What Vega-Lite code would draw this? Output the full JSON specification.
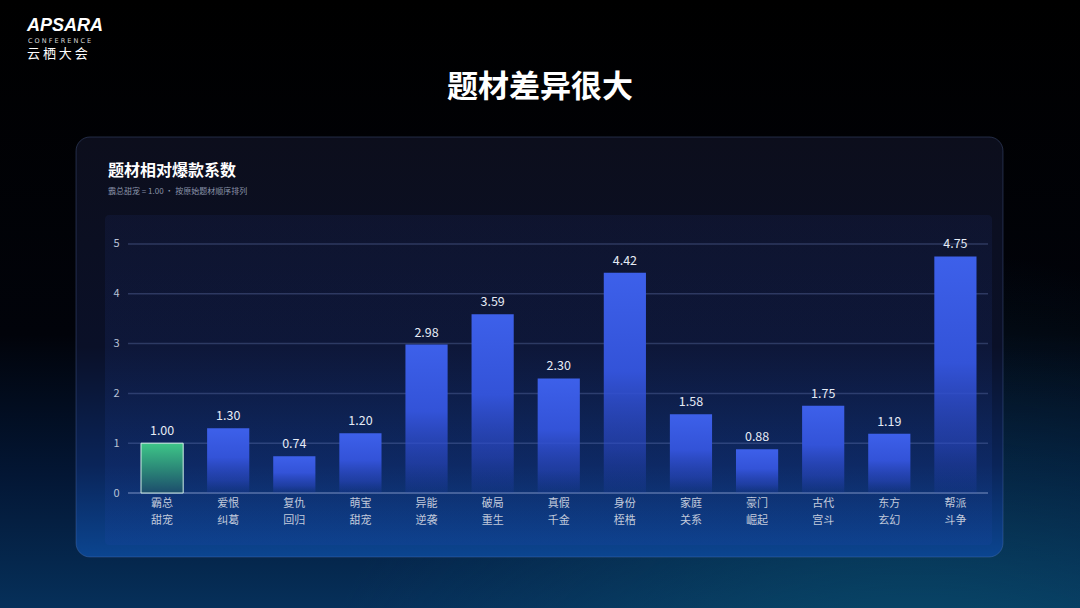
{
  "$schema": "https://vega.github.io/schema/vega-lite/v6.json",
  "width": 1080,
  "height": 608,
  "padding": 0,
  "autosize": {"type": "none"},
  "background": "#000000",
  "config": {
    "view": {"stroke": null},
    "font": "Noto Sans CJK SC",
    "text": {"font": "Noto Sans CJK SC"}
  },
  "datasets": {
    "bars": [
      {"题材": "霸总甜宠", "系数": 1.00, "基准": true},
      {"题材": "爱恨纠葛", "系数": 1.30, "基准": false},
      {"题材": "复仇回归", "系数": 0.74, "基准": false},
      {"题材": "萌宝甜宠", "系数": 1.20, "基准": false},
      {"题材": "异能逆袭", "系数": 2.98, "基准": false},
      {"题材": "破局重生", "系数": 3.59, "基准": false},
      {"题材": "真假千金", "系数": 2.30, "基准": false},
      {"题材": "身份桎梏", "系数": 4.42, "基准": false},
      {"题材": "家庭关系", "系数": 1.58, "基准": false},
      {"题材": "豪门崛起", "系数": 0.88, "基准": false},
      {"题材": "古代宫斗", "系数": 1.75, "基准": false},
      {"题材": "东方玄幻", "系数": 1.19, "基准": false},
      {"题材": "帮派斗争", "系数": 4.75, "基准": false}
    ],
    "grid": [{"v": 1}, {"v": 2}, {"v": 3}, {"v": 4}, {"v": 5}],
    "one": [{"k": 1}]
  },
  "data": {"name": "bars"},
  "layer": [
    {
      "data": {"name": "one"},
      "mark": {
        "type": "rect",
        "fill": {
          "gradient": "linear", "x1": 0, "y1": 0, "x2": 0, "y2": 1,
          "stops": [
            {"offset": 0, "color": "#000000"},
            {"offset": 0.55, "color": "#01030a"},
            {"offset": 0.78, "color": "#031634"},
            {"offset": 1, "color": "#06305a"}
          ]
        }
      },
      "encoding": {}
    },
    {
      "data": {"name": "one"},
      "mark": {
        "type": "rect",
        "fill": {
          "gradient": "radial", "x1": 0.85, "y1": 1.05, "r1": 0, "x2": 0.85, "y2": 1.05, "r2": 0.6,
          "stops": [
            {"offset": 0, "color": "rgba(12,110,125,0.85)"},
            {"offset": 0.6, "color": "rgba(10,80,110,0.35)"},
            {"offset": 1, "color": "rgba(10,60,100,0)"}
          ]
        }
      },
      "encoding": {}
    },
    {
      "data": {"name": "one"},
      "mark": {
        "type": "rect",
        "cornerRadius": 14,
        "xOffset": -65,
        "x2Offset": 26.5,
        "stroke": "rgba(110,140,210,0.28)",
        "strokeWidth": 1,
        "fill": {
          "gradient": "linear", "x1": 0, "y1": 0, "x2": 0, "y2": 1,
          "stops": [
            {"offset": 0, "color": "#0c0e1c"},
            {"offset": 0.5, "color": "#0a1028"},
            {"offset": 0.78, "color": "#0a2458"},
            {"offset": 1, "color": "#0b4590"}
          ]
        }
      },
      "encoding": {
        "x": {"datum": "霸总甜宠", "type": "nominal", "bandPosition": 0},
        "x2": {"datum": "帮派斗争", "bandPosition": 1},
        "y": {"datum": 7.149, "type": "quantitative"},
        "y2": {"datum": -1.285}
      }
    },
    {
      "data": {"name": "one"},
      "mark": {
        "type": "rect",
        "cornerRadius": 4,
        "xOffset": -36,
        "x2Offset": 15.5,
        "fill": {
          "gradient": "linear", "x1": 0, "y1": 0, "x2": 0, "y2": 1,
          "stops": [
            {"offset": 0, "color": "rgba(30,45,110,0.18)"},
            {"offset": 1, "color": "rgba(30,70,170,0.18)"}
          ]
        }
      },
      "encoding": {
        "x": {"datum": "霸总甜宠", "type": "nominal", "bandPosition": 0},
        "x2": {"datum": "帮派斗争", "bandPosition": 1},
        "y": {"datum": 5.582, "type": "quantitative"},
        "y2": {"datum": -1.044}
      }
    },
    {
      "data": {"name": "grid"},
      "mark": {"type": "rule", "stroke": "rgba(120,140,200,0.3)", "strokeWidth": 1.5, "xOffset": -13, "x2Offset": 11.5},
      "encoding": {
        "x": {"datum": "霸总甜宠", "type": "nominal", "bandPosition": 0},
        "x2": {"datum": "帮派斗争", "bandPosition": 1},
        "y": {"field": "v", "type": "quantitative"}
      }
    },
    {
      "data": {"name": "one"},
      "mark": {"type": "rule", "stroke": "rgba(150,170,215,0.55)", "strokeWidth": 1.5, "xOffset": -13, "x2Offset": 11.5},
      "encoding": {
        "x": {"datum": "霸总甜宠", "type": "nominal", "bandPosition": 0},
        "x2": {"datum": "帮派斗争", "bandPosition": 1},
        "y": {"datum": 0, "type": "quantitative"}
      }
    },
    {
      "transform": [{"filter": "!datum['基准']"}],
      "mark": {
        "type": "bar",
        "fill": {
          "gradient": "linear", "x1": 0, "y1": 0, "x2": 0, "y2": 1,
          "stops": [
            {"offset": 0, "color": "#3d60ea"},
            {"offset": 0.45, "color": "#3353d8"},
            {"offset": 0.8, "color": "rgba(45,75,205,0.55)"},
            {"offset": 1, "color": "rgba(40,70,200,0.1)"}
          ]
        }
      },
      "encoding": {
        "x": {
          "field": "题材", "type": "nominal",
          "scale": {
            "domain": ["霸总甜宠", "爱恨纠葛", "复仇回归", "萌宝甜宠", "异能逆袭", "破局重生", "真假千金", "身份桎梏", "家庭关系", "豪门崛起", "古代宫斗", "东方玄幻", "帮派斗争"],
            "range": [141, 976.5],
            "paddingInner": 0.362, "paddingOuter": 0
          },
          "axis": {
            "orient": "bottom", "offset": -115, "title": null, "zindex": 1,
            "domain": false, "ticks": false, "labelAngle": 0,
            "bandPosition": 0.5, "labelAlign": "center",
            "labelExpr": "[substring(datum.label,0,2), substring(datum.label,2)]",
            "labelFontSize": 11, "labelColor": "#c2cadb", "labelLineHeight": 17,
            "labelPadding": 10, "labelFont": "Noto Sans CJK SC"
          }
        },
        "y": {
          "field": "系数", "type": "quantitative",
          "scale": {"domain": [-2.309, 9.899], "nice": false, "zero": false},
          "axis": {
            "values": [0, 1, 2, 3, 4, 5], "offset": -128, "title": null, "zindex": 1,
            "domain": false, "ticks": false, "grid": false,
            "labelFontSize": 11, "labelColor": "#b8c2d6", "labelPadding": 9,
            "labelFont": "Noto Sans CJK SC"
          }
        },
        "y2": {"datum": 0}
      }
    },
    {
      "transform": [{"filter": "datum['基准']"}],
      "mark": {
        "type": "bar",
        "stroke": "#d2efe6",
        "strokeWidth": 1,
        "fill": {
          "gradient": "linear", "x1": 0, "y1": 0, "x2": 0, "y2": 1,
          "stops": [
            {"offset": 0, "color": "#3ec688"},
            {"offset": 0.5, "color": "#2c8a78"},
            {"offset": 1, "color": "#1c4c6c"}
          ]
        }
      },
      "encoding": {
        "x": {"field": "题材", "type": "nominal"},
        "y": {"field": "系数", "type": "quantitative"},
        "y2": {"datum": 0}
      }
    },
    {
      "mark": {"type": "text", "baseline": "bottom", "dy": -5, "fontSize": 12.5, "color": "#e6ebf5"},
      "encoding": {
        "x": {"field": "题材", "type": "nominal"},
        "y": {"field": "系数", "type": "quantitative"},
        "text": {"field": "系数", "type": "quantitative", "format": ".2f"}
      }
    },
    {
      "data": {"values": [{"t": "题材差异很大"}]},
      "mark": {"type": "text", "fontSize": 31, "fontWeight": "bold", "color": "#ffffff", "baseline": "middle", "align": "center"},
      "encoding": {
        "y": {"datum": 8.133, "type": "quantitative"},
        "text": {"field": "t"}
      }
    },
    {
      "data": {"values": [{"t": "题材相对爆款系数"}]},
      "mark": {"type": "text", "fontSize": 16, "fontWeight": "bold", "color": "#ffffff", "baseline": "middle", "align": "left", "dx": -33},
      "encoding": {
        "x": {"datum": "霸总甜宠", "type": "nominal", "bandPosition": 0},
        "y": {"datum": 6.466, "type": "quantitative"},
        "text": {"field": "t"}
      }
    },
    {
      "data": {"values": [{"t": "霸总甜宠 = 1.00 · 按原始题材顺序排列"}]},
      "mark": {"type": "text", "fontSize": 8, "color": "#8a93a8", "baseline": "middle", "align": "left", "dx": -33},
      "encoding": {
        "x": {"datum": "霸总甜宠", "type": "nominal", "bandPosition": 0},
        "y": {"datum": 6.044, "type": "quantitative"},
        "text": {"field": "t"}
      }
    },
    {
      "data": {"values": [{"t": "APSARA"}]},
      "mark": {"type": "text", "font": "Liberation Sans", "fontSize": 18, "fontWeight": "bold", "fontStyle": "italic", "color": "#ffffff", "baseline": "middle", "align": "left", "dx": -114},
      "encoding": {
        "x": {"datum": "霸总甜宠", "type": "nominal", "bandPosition": 0},
        "y": {"datum": 9.377, "type": "quantitative"},
        "text": {"field": "t"}
      }
    },
    {
      "data": {"values": [{"t": "C O N F E R E N C E"}]},
      "mark": {"type": "text", "font": "DejaVu Sans", "fontSize": 6.5, "color": "#d8d8d8", "baseline": "middle", "align": "left", "dx": -113},
      "encoding": {
        "x": {"datum": "霸总甜宠", "type": "nominal", "bandPosition": 0},
        "y": {"datum": 9.066, "type": "quantitative"},
        "text": {"field": "t"}
      }
    },
    {
      "data": {"values": [{"t": "云  栖  大  会"}]},
      "mark": {"type": "text", "fontSize": 13, "color": "#ffffff", "baseline": "middle", "align": "left", "dx": -114},
      "encoding": {
        "x": {"datum": "霸总甜宠", "type": "nominal", "bandPosition": 0},
        "y": {"datum": 8.805, "type": "quantitative"},
        "text": {"field": "t"}
      }
    }
  ]
}
